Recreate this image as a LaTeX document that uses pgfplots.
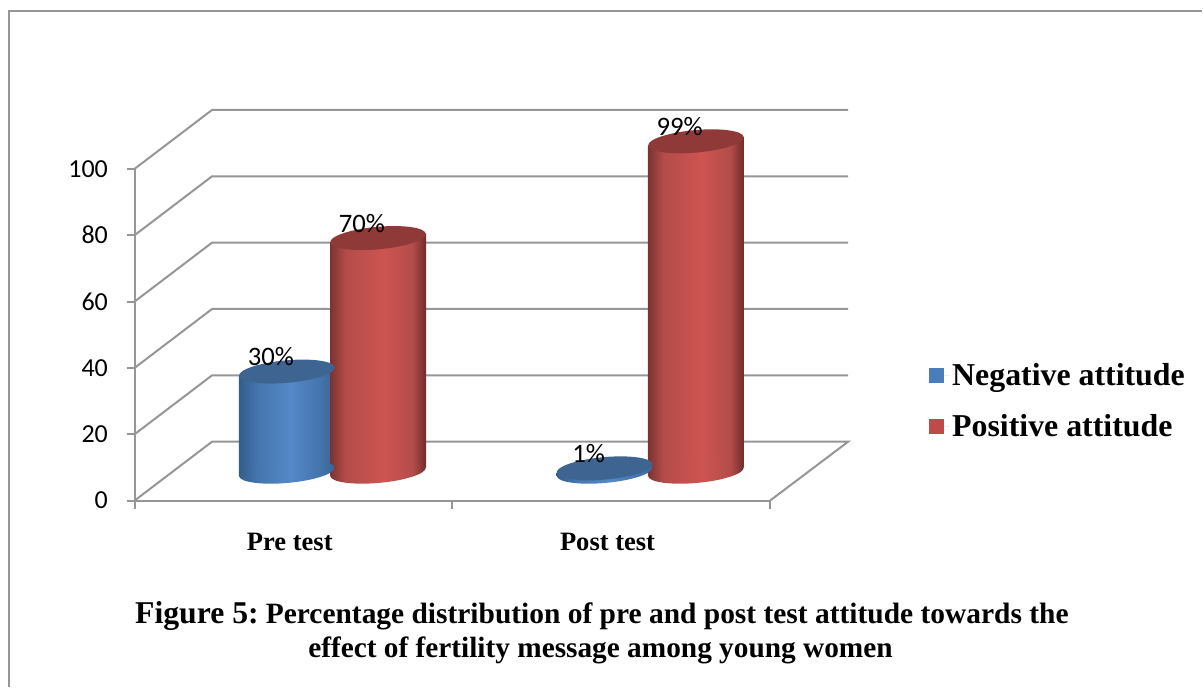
\documentclass[border=0pt]{standalone}
\usepackage{fontspec}
\setmainfont{Liberation Serif}
\newfontfamily\carlito{Carlito}
\usepackage{pgfplots}
\pgfplotsset{compat=1.18}
\usetikzlibrary{shapes.geometric}

\definecolor{gridgray}{HTML}{969696}
\definecolor{topblue}{HTML}{3E6591}
\definecolor{topred}{HTML}{8F3A38}
\definecolor{legblue}{HTML}{4A7EBB}
\definecolor{legred}{HTML}{BE4B48}
\definecolor{bA}{HTML}{335C8A}\definecolor{bB}{HTML}{4676AF}\definecolor{bC}{HTML}{5488C8}\definecolor{bD}{HTML}{3A6594}
\definecolor{rA}{HTML}{7A3331}\definecolor{rB}{HTML}{B34C49}\definecolor{rC}{HTML}{CE5451}\definecolor{rD}{HTML}{6E2C2B}
\pgfdeclarehorizontalshading{cylblue}{100bp}{color(0bp)=(bA); color(25bp)=(bA); color(35bp)=(bB); color(52bp)=(bC); color(66bp)=(bB); color(75bp)=(bD); color(100bp)=(bD)}
\pgfdeclarehorizontalshading{cylred}{100bp}{color(0bp)=(rA); color(25bp)=(rA); color(33bp)=(rB); color(53bp)=(rC); color(68bp)=(rB); color(75bp)=(rD); color(100bp)=(rD)}

\pgfplotsset{
  pos/.style={scale only axis, width=477pt, height=249pt, at={(0,0)}, anchor=south west,
    xmin=-0.5, xmax=1.5, clip=false},
  wall/.style={gridgray, line width=1.5pt, forget plot},
  % args: bar shift, shading, y correction for the slant
  cyl/.style n args={3}{ybar, bar width=72pt, bar shift=#1, forget plot, draw=none, shade, shading=#2,
    yshift=#3, yslant=0.09, nodes near coords={}, nodes near coords align={center},
    every node near coord/.append style={xshift=#1, yshift=0.09*#1}},
  cap/.style={every node near coord/.append style={shape=ellipse, inner sep=0pt, rotate=5.1,
    minimum width=72pt, minimum height=16.9pt, draw=none, shade, shading=#1}},
  capflat/.style={every node near coord/.append style={shape=ellipse, inner sep=0pt, rotate=5.1,
    minimum width=72pt, minimum height=16.9pt, draw=none, fill=#1}},
  pct/.style={ybar, bar width=72pt, bar shift=#1, forget plot, draw=none, fill=none,
    /pgf/number format/assume math mode=true,
    nodes near coords={\pgfmathprintnumber{\pgfplotspointmeta}\%}, nodes near coords align={center},
    every node near coord/.append style={font=\carlito\fontsize{20}{20}\selectfont, black,
      inner sep=0pt, xshift=#1-12pt, yshift=11pt}},
}

\begin{document}
\begin{tikzpicture}
% page size and the frame round the figure
\path (-101.025pt,-140.25pt) rectangle (801.225pt,375.75pt);
\draw[gridgray, line width=1.5pt] (-94.275pt,-140.25pt) -- (-94.275pt,367.5pt) -- (801.225pt,367.5pt);

\begin{axis}[pos,
  ymin=0, ymax=100,
  axis x line*=bottom, axis y line*=left,
  axis line style={gridgray, line width=1.5pt, -},
  tick style={gridgray, line width=1.5pt},
  tickwidth=6pt,
  tick align=outside,
  ytick={0,20,40,60,80,100},
  xtick={-0.5,0.5,1.5}, xticklabels={,,},
  extra x ticks={0,1},
  extra x tick labels={Pre test,Post test},
  extra x tick style={major tick length=0pt},
  /pgf/number format/assume math mode=true,
  yticklabel style={font=\carlito\fontsize{19.5}{20}\selectfont, xshift=-10.5pt},
  xticklabel style={font=\bfseries\fontsize{19.9}{20}\selectfont, yshift=-21pt, xshift=-2.75pt},
]
% floor and back wall
\addplot[wall] coordinates {(-0.5,0) (-0.256,17.77) (1.746,17.77) (1.5,0)};
\addplot[wall] coordinates {(-0.5,20) (-0.256,37.77) (1.746,37.77)};
\addplot[wall] coordinates {(-0.5,40) (-0.256,57.77) (1.746,57.77)};
\addplot[wall] coordinates {(-0.5,60) (-0.256,77.77) (1.746,77.77)};
\addplot[wall] coordinates {(-0.5,80) (-0.256,97.77) (1.746,97.77)};
\addplot[wall] coordinates {(-0.5,100) (-0.256,117.77) (1.746,117.77)};
\end{axis}

\begin{axis}[pos,
  ymin=-8.65, ymax=90.75,
  axis lines=none,
  legend style={at={(1.249,0.300)}, anchor=west, draw=none, fill=none, inner sep=0pt,
    font=\bfseries\fontsize{23.9}{24}\selectfont, row sep=15.75pt},
  legend cell align=left,
  legend image code/.code={\path[#1,draw=none] (0pt,-5.6pt) rectangle (11.25pt,5.6pt); \path[draw=none] (0pt,0pt) -- (15.75pt,0pt);},
]
\addlegendimage{fill=legblue}
\addlegendentry{Negative attitude}
\addlegendimage{fill=legred}
\addlegendentry{Positive attitude}

% Negative attitude
\addplot[cyl={-5pt}{cylblue}{-10.28pt}, cap=cylblue] coordinates {(0,0)};
\addplot[cyl={-5pt}{cylblue}{-10.28pt}, capflat=topblue] coordinates {(0,30)};
\addplot[cyl={-5pt}{cylblue}{-31.74pt}, cap=cylblue] coordinates {(1,0)};
\addplot[cyl={-5pt}{cylblue}{-31.74pt}, capflat=topblue] coordinates {(1,1)};
% Positive attitude
\addplot[cyl={63.5pt}{cylred}{-16.42pt}, cap=cylred] coordinates {(0,0)};
\addplot[cyl={63.5pt}{cylred}{-16.42pt}, capflat=topred] coordinates {(0,70)};
\addplot[cyl={63.6pt}{cylred}{-37.92pt}, cap=cylred] coordinates {(1,0)};
\addplot[cyl={63.6pt}{cylred}{-37.92pt}, capflat=topred] coordinates {(1,99)};
% value labels
\addplot[pct=-5pt] coordinates {(0,30) (1,1)};
\addplot[pct=63.4pt] coordinates {(0,70) (1,99)};
\end{axis}

\node[anchor=base west, inner sep=0pt, font=\bfseries] at (0.225pt,-91.9pt)
  {{\fontsize{23.8}{24}\selectfont Figure 5:}\hspace{2pt} {\fontsize{22.1}{24}\selectfont Percentage distribution of pre and post test attitude towards the}};
\node[anchor=base, inner sep=0pt, font=\bfseries\fontsize{22}{24}\selectfont] at (349.7pt,-117.5pt)
  {effect of fertility message among young women};
\end{tikzpicture}
\end{document}
